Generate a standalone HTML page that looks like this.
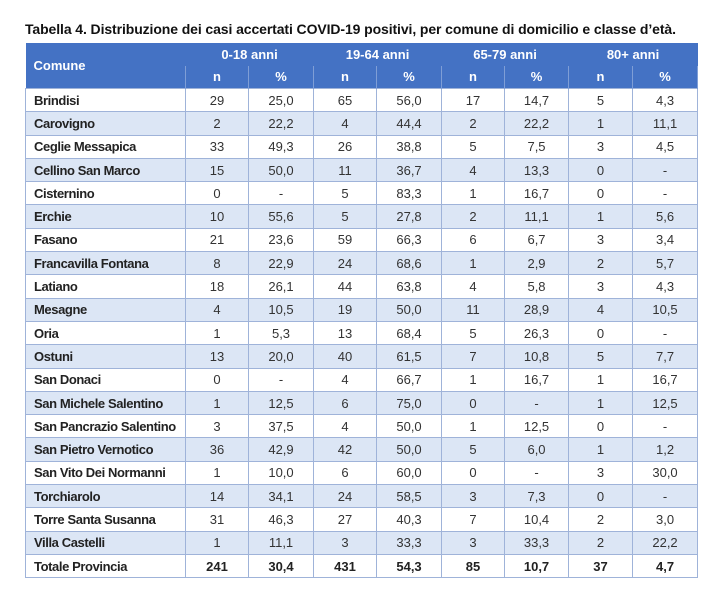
<!DOCTYPE html>
<html><head><style>
body{margin:0;width:720px;height:591px;background:#fff;font-family:"Liberation Sans",sans-serif;position:relative;overflow:hidden}
.title{position:absolute;left:25px;top:21px;font-size:14px;font-weight:bold;color:#111;white-space:nowrap;letter-spacing:-0.1px}
table{position:absolute;left:25px;top:43px;border-collapse:collapse;table-layout:fixed;width:672px}
td,th{padding:0;font-size:13px;text-align:center;border:1px solid #9fb3d9;color:#333}
th{background:#4472c4;color:#fff;font-weight:bold;border-color:#7f9ed6;border-top:none;border-bottom:none}
tr.h1 th{height:22.5px;border-left:none;border-right:none}
tr.h2 th{height:22.5px}
td{height:22.3px}
td:first-child{text-align:left;padding-left:8px;font-weight:bold;letter-spacing:-0.4px;color:#222;white-space:nowrap;overflow:hidden}
tr.b td{background:#dce6f5}
tr.t td{font-weight:bold;color:#222}
</style></head><body>
<div class="title">Tabella 4. Distribuzione dei casi accertati COVID-19 positivi, per comune di domicilio e classe d’età.</div>
<table>
<colgroup><col style="width:160px"><col style="width:63px"><col style="width:65px"><col style="width:63px"><col style="width:65px"><col style="width:63px"><col style="width:64px"><col style="width:64px"><col style="width:65px"></colgroup>
<tr class="h1"><th rowspan="2" style="text-align:left;padding-left:8px">Comune</th><th colspan="2">0-18 anni</th><th colspan="2">19-64 anni</th><th colspan="2">65-79 anni</th><th colspan="2">80+ anni</th></tr>
<tr class="h2"><th>n</th><th>%</th><th>n</th><th>%</th><th>n</th><th>%</th><th>n</th><th>%</th></tr>
<tr><td>Brindisi</td><td>29</td><td>25,0</td><td>65</td><td>56,0</td><td>17</td><td>14,7</td><td>5</td><td>4,3</td></tr>
<tr class="b"><td>Carovigno</td><td>2</td><td>22,2</td><td>4</td><td>44,4</td><td>2</td><td>22,2</td><td>1</td><td>11,1</td></tr>
<tr><td>Ceglie Messapica</td><td>33</td><td>49,3</td><td>26</td><td>38,8</td><td>5</td><td>7,5</td><td>3</td><td>4,5</td></tr>
<tr class="b"><td>Cellino San Marco</td><td>15</td><td>50,0</td><td>11</td><td>36,7</td><td>4</td><td>13,3</td><td>0</td><td>-</td></tr>
<tr><td>Cisternino</td><td>0</td><td>-</td><td>5</td><td>83,3</td><td>1</td><td>16,7</td><td>0</td><td>-</td></tr>
<tr class="b"><td>Erchie</td><td>10</td><td>55,6</td><td>5</td><td>27,8</td><td>2</td><td>11,1</td><td>1</td><td>5,6</td></tr>
<tr><td>Fasano</td><td>21</td><td>23,6</td><td>59</td><td>66,3</td><td>6</td><td>6,7</td><td>3</td><td>3,4</td></tr>
<tr class="b"><td>Francavilla Fontana</td><td>8</td><td>22,9</td><td>24</td><td>68,6</td><td>1</td><td>2,9</td><td>2</td><td>5,7</td></tr>
<tr><td>Latiano</td><td>18</td><td>26,1</td><td>44</td><td>63,8</td><td>4</td><td>5,8</td><td>3</td><td>4,3</td></tr>
<tr class="b"><td>Mesagne</td><td>4</td><td>10,5</td><td>19</td><td>50,0</td><td>11</td><td>28,9</td><td>4</td><td>10,5</td></tr>
<tr><td>Oria</td><td>1</td><td>5,3</td><td>13</td><td>68,4</td><td>5</td><td>26,3</td><td>0</td><td>-</td></tr>
<tr class="b"><td>Ostuni</td><td>13</td><td>20,0</td><td>40</td><td>61,5</td><td>7</td><td>10,8</td><td>5</td><td>7,7</td></tr>
<tr><td>San Donaci</td><td>0</td><td>-</td><td>4</td><td>66,7</td><td>1</td><td>16,7</td><td>1</td><td>16,7</td></tr>
<tr class="b"><td>San Michele Salentino</td><td>1</td><td>12,5</td><td>6</td><td>75,0</td><td>0</td><td>-</td><td>1</td><td>12,5</td></tr>
<tr><td>San Pancrazio Salentino</td><td>3</td><td>37,5</td><td>4</td><td>50,0</td><td>1</td><td>12,5</td><td>0</td><td>-</td></tr>
<tr class="b"><td>San Pietro Vernotico</td><td>36</td><td>42,9</td><td>42</td><td>50,0</td><td>5</td><td>6,0</td><td>1</td><td>1,2</td></tr>
<tr><td>San Vito Dei Normanni</td><td>1</td><td>10,0</td><td>6</td><td>60,0</td><td>0</td><td>-</td><td>3</td><td>30,0</td></tr>
<tr class="b"><td>Torchiarolo</td><td>14</td><td>34,1</td><td>24</td><td>58,5</td><td>3</td><td>7,3</td><td>0</td><td>-</td></tr>
<tr><td>Torre Santa Susanna</td><td>31</td><td>46,3</td><td>27</td><td>40,3</td><td>7</td><td>10,4</td><td>2</td><td>3,0</td></tr>
<tr class="b"><td>Villa Castelli</td><td>1</td><td>11,1</td><td>3</td><td>33,3</td><td>3</td><td>33,3</td><td>2</td><td>22,2</td></tr>
<tr class="t"><td>Totale Provincia</td><td>241</td><td>30,4</td><td>431</td><td>54,3</td><td>85</td><td>10,7</td><td>37</td><td>4,7</td></tr>
</table>
</body></html>
